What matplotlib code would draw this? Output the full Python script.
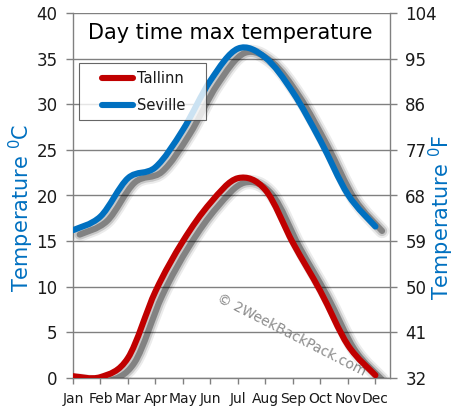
import matplotlib
matplotlib.use("Agg")
import matplotlib.pyplot as plt
import matplotlib.patheffects as pe
from matplotlib.path import Path
from matplotlib.patches import PathPatch
from matplotlib.lines import Line2D
from matplotlib.legend_handler import HandlerLine2D
import numpy as np

months = ["Jan", "Feb", "Mar", "Apr", "May", "Jun", "Jul", "Aug", "Sep", "Oct", "Nov", "Dec"]
tallinn = [0.2, 0.1, 2.2, 9.5, 15.0, 19.2, 21.9, 20.6, 14.8, 9.5, 3.6, 0.3]
seville = [16.2, 17.7, 21.9, 23.1, 27.2, 32.6, 36.1, 35.1, 31.3, 26.0, 20.1, 16.6]
c_ticks = [0, 5, 10, 15, 20, 25, 30, 35, 40]
f_ticks = [32, 41, 50, 59, 68, 77, 86, 95, 104]

RED = "#C00000"
BLUE = "#0070C0"
GRID = "#808080"
TXT = "#1a1a1a"


def smooth_path(xs, ys):
    pts = np.column_stack([xs, ys]).astype(float)
    n = len(pts)
    verts = [pts[0]]
    codes = [Path.MOVETO]
    for i in range(n - 1):
        p0 = pts[max(i - 1, 0)]
        p1 = pts[i]
        p2 = pts[i + 1]
        p3 = pts[min(i + 2, n - 1)]
        c1 = p1 + (p2 - p0) / 6.0
        c2 = p2 - (p3 - p1) / 6.0
        verts += [c1, c2, p2]
        codes += [Path.CURVE4] * 3
    return Path(verts, codes)


fig = plt.figure(figsize=(4.57, 4.19), dpi=100)
ax = fig.add_axes([73 / 457, 41 / 419, 317 / 457, 365 / 419])

x = np.arange(len(months))
lw = 4.4
off = (4.8, -3.2)
shadow = [
    pe.SimpleLineShadow(offset=off, shadow_color="k", alpha=0.08, linewidth=lw + 6),
    pe.SimpleLineShadow(offset=off, shadow_color="k", alpha=0.15, linewidth=lw + 3),
    pe.SimpleLineShadow(offset=off, shadow_color="k", alpha=0.35, linewidth=lw),
    pe.Normal(),
]

for vals, col in [(seville, BLUE), (tallinn, RED)]:
    patch = PathPatch(smooth_path(x, vals), fill=False, edgecolor=col, linewidth=lw,
                      capstyle="round", joinstyle="round", zorder=3)
    patch.set_path_effects(shadow)
    ax.add_patch(patch)

ax.set_xlim(0, 11.53)
ax.set_ylim(0, 40)
ax.set_yticks(c_ticks)
ax.set_xticks(x)
ax.set_xticklabels(months)
ax.yaxis.grid(True, color=GRID, linewidth=1.0)
ax.set_axisbelow(True)
for s in ["left", "right", "bottom"]:
    ax.spines[s].set_color(GRID)
    ax.spines[s].set_linewidth(1.0)
ax.spines["top"].set_visible(False)
ax.tick_params(axis="y", length=5, width=1, color=GRID, labelsize=12, labelcolor=TXT, pad=6)
ax.tick_params(axis="x", length=4, width=1, color=GRID, labelsize=10, labelcolor=TXT, pad=6)

ax2 = ax.twinx()
ax2.set_ylim(32, 104)
ax2.set_yticks(f_ticks)
for s in ax2.spines.values():
    s.set_visible(False)
ax2.tick_params(axis="y", length=5, width=1, color=GRID, labelsize=12, labelcolor=TXT, pad=6)

ax.text(0.495, 0.945, "Day time max temperature", transform=ax.transAxes,
        ha="center", va="center", fontsize=15, color="black", zorder=5)

ax.text(0.69, 0.118, "\u00a9 2WeekBackPack.com", transform=ax.transAxes,
        ha="center", va="center", fontsize=10, color="#8c8c8c", rotation=-27, zorder=2)

handles = [Line2D([], [], color=RED, linewidth=lw, solid_capstyle="round"),
           Line2D([], [], color=BLUE, linewidth=lw, solid_capstyle="round")]
hmap = {h: HandlerLine2D(xpad=1.05) for h in handles}
leg = ax.legend(handles, ["Tallinn   ", "Seville   "], loc="upper left",
                bbox_to_anchor=(0.019, 0.862), fontsize=10.5, frameon=True,
                fancybox=False, handlelength=3.2, handletextpad=0.25,
                borderpad=0.5, labelspacing=0.85, borderaxespad=0,
                handler_map=hmap)
leg.get_frame().set_edgecolor("#404040")
leg.get_frame().set_linewidth(0.8)
for t in leg.get_texts():
    t.set_color(TXT)
leg.set_zorder(6)

fig.text(21 / 457, 1 - 208 / 419, "Temperature $^{0}$C", rotation=90, ha="center",
         va="center", fontsize=15, color=BLUE)
fig.text(441 / 457, 1 - 217 / 419, "Temperature $^{0}$F", rotation=90, ha="center",
         va="center", fontsize=15, color=BLUE)

fig.savefig("out.png", dpi=100)
